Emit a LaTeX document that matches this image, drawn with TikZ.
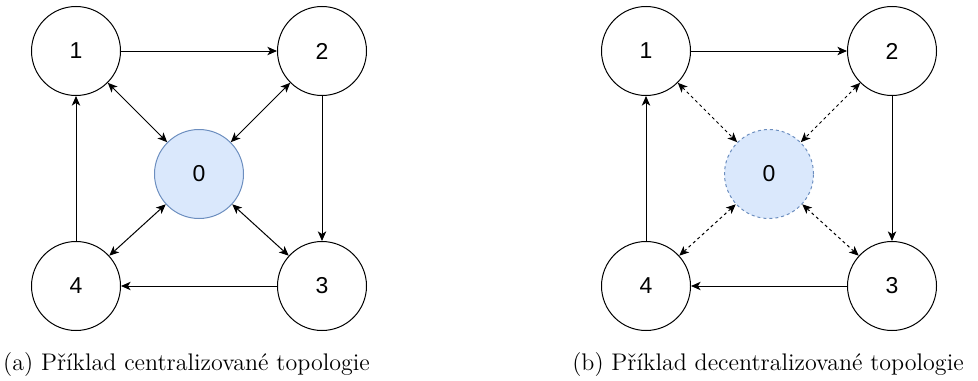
\documentclass[tikz,border=0pt]{standalone}
\usepackage{fontspec}
\newfontfamily\nodefont{Liberation Sans}
\usetikzlibrary{arrows.meta}
\definecolor{zfill}{HTML}{DAE8FC}
\definecolor{zdraw}{HTML}{6C8EBF}
\begin{document}
\begin{tikzpicture}[x=0.5pt,y=-0.5pt,
  vert/.style={circle, draw=black, line width=0.5pt, minimum size=44.5pt, inner sep=0pt,
    font=\nodefont\fontsize{11.5}{13}\selectfont},
  hub/.style={vert, draw=zdraw, fill=zfill},
  hubdash/.style={hub, dash pattern=on 1.5pt off 1.5pt},
  edge/.style={line width=0.5pt, -{Stealth[length=4.8pt,width=4.2pt,inset=1.3pt]}},
  both/.style={line width=0.5pt, {Stealth[length=4.8pt,width=4.2pt,inset=1.3pt]}-{Stealth[length=4.8pt,width=4.2pt,inset=1.3pt]}},
  bothdash/.style={both, dash pattern=on 1.5pt off 1.5pt},
  captext/.style={anchor=base, inner sep=0pt, font=\fontsize{12}{14}\selectfont}
]
\useasboundingbox (0,0) rectangle (978,380);
% left diagram
\node[vert] (a1) at (76,51) {1};
\node[vert] (a2) at (322,51) {2};
\node[vert] (a3) at (322,286) {3};
\node[vert] (a4) at (76,286) {4};
\node[hub]  (a0) at (199,174) {0};
\draw[edge] (a1) -- (a2);
\draw[edge] (a2) -- (a3);
\draw[edge] (a3) -- (a4);
\draw[edge] (a4) -- (a1);
\draw[both] (a1) -- (a0);
\draw[both] (a2) -- (a0);
\draw[both] (a3) -- (a0);
\draw[both] (a4) -- (a0);
\node[captext] (ca) at (186.5,370) {(a) Příklad centralizované topologie};
% right diagram
\node[vert] (b1) at (646,51) {1};
\node[vert] (b2) at (892,51) {2};
\node[vert] (b3) at (892,286) {3};
\node[vert] (b4) at (646,286) {4};
\node[hubdash] (b0) at (769,174) {0};
\draw[edge] (b1) -- (b2);
\draw[edge] (b2) -- (b3);
\draw[edge] (b3) -- (b4);
\draw[edge] (b4) -- (b1);
\draw[bothdash] (b1) -- (b0);
\draw[bothdash] (b2) -- (b0);
\draw[bothdash] (b3) -- (b0);
\draw[bothdash] (b4) -- (b0);
\node[captext] (cb) at (768,370) {(b) Příklad decentralizované topologie};
\end{tikzpicture}
\end{document}
